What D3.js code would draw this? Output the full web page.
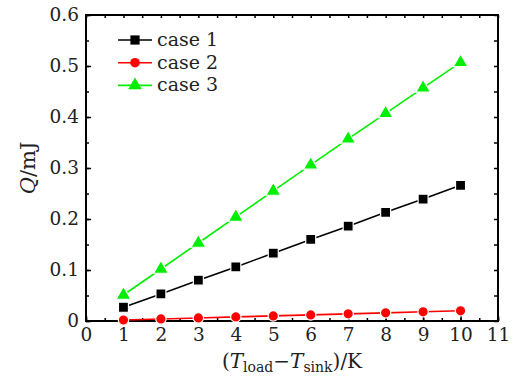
<!DOCTYPE html>
<html>
<head>
<meta charset="utf-8">
<script src="https://cdn.jsdelivr.net/npm/d3@7"></script>
<style>
  body { margin: 0; background: #fff; }
  svg text { font-family: "DejaVu Serif", serif; }
</style>
</head>
<body>
<script>
const xValues = [1, 2, 3, 4, 5, 6, 7, 8, 9, 10];
const case1 = [0.027, 0.053, 0.080, 0.106, 0.133, 0.160, 0.186, 0.213, 0.239, 0.266];
const case2 = [0.002, 0.004, 0.006, 0.008, 0.010, 0.012, 0.014, 0.016, 0.018, 0.020];
const case3 = [0.051, 0.102, 0.153, 0.204, 0.255, 0.306, 0.357, 0.407, 0.457, 0.507];
const seriesNames = ['case 1', 'case 2', 'case 3'];
const xTicks = [0, 1, 2, 3, 4, 5, 6, 7, 8, 9, 10, 11];
const yTicks = [0, 0.1, 0.2, 0.3, 0.4, 0.5, 0.6];

const width = 514, height = 378;
const margin = { top: 15, right: 16, bottom: 57, left: 86 };

const svg = d3.select('body')
    .append('svg')
    .attr('width', width)
    .attr('height', height);

const x = d3.scaleLinear().domain([0, 11]).range([margin.left, width - margin.right]);
const y = d3.scaleLinear().domain([0, 0.6]).range([height - margin.bottom, margin.top]);

const series = [
    { name: seriesNames[0], values: case1, color: '#000000', shape: d3.symbolSquare, size: 100 },
    { name: seriesNames[1], values: case2, color: '#ff0000', shape: d3.symbolCircle, size: 85 },
    { name: seriesNames[2], values: case3, color: '#00ee00', shape: d3.symbolTriangle, size: 95 }
];

// axes with inward ticks
const minorX = d3.range(0, 11.01, 0.5);
const minorY = d3.range(0, 0.601, 0.05);

function addAxis(axisFn, scale, transform, values, size, labels) {
    const a = axisFn(scale).tickValues(values).tickSizeInner(-size).tickSizeOuter(0).tickPadding(7);
    if (!labels) a.tickFormat('');
    const g = svg.append('g').attr('transform', transform).call(a);
    g.select('.domain').remove();
    g.selectAll('line').attr('stroke', '#000').attr('stroke-width', 1.5);
    g.selectAll('text').attr('font-size', 18.5).attr('fill', '#222');
    return g;
}

const pBottom = height - margin.bottom, pLeft = margin.left, pRight = width - margin.right, pTop = margin.top;

addAxis(d3.axisBottom, x, `translate(0,${pBottom})`, minorX, 3, false);
addAxis(d3.axisBottom, x, `translate(0,${pBottom})`, xTicks, 5, true)
    .selectAll('text').text(d => d3.format('d')(d));
addAxis(d3.axisTop, x, `translate(0,${pTop})`, minorX, 3, false);
addAxis(d3.axisLeft, y, `translate(${pLeft},0)`, minorY, 3, false);
addAxis(d3.axisLeft, y, `translate(${pLeft},0)`, yTicks, 5, true)
    .selectAll('text').text(d => d === 0 ? '0' : d3.format('.1f')(d));
addAxis(d3.axisRight, y, `translate(${pRight},0)`, minorY, 4, false);

svg.append('rect')
    .attr('x', pLeft).attr('y', pTop)
    .attr('width', pRight - pLeft).attr('height', pBottom - pTop)
    .attr('fill', 'none').attr('stroke', '#000').attr('stroke-width', 2);

// lines and markers
const line = d3.line().x((d, i) => x(xValues[i])).y(d => y(d));

series.forEach(s => {
    svg.append('path')
        .datum(s.values)
        .attr('fill', 'none')
        .attr('stroke', s.color)
        .attr('stroke-width', 1.6)
        .attr('d', line);

    svg.selectAll(null)
        .data(s.values)
        .enter()
        .append('path')
        .attr('transform', (d, i) => `translate(${x(xValues[i])},${y(d)})`)
        .attr('d', d3.symbol().type(s.shape).size(s.size))
        .attr('fill', s.color)
        .attr('stroke', '#fff')
        .attr('stroke-width', 1.2);
});

// legend
const legend = svg.append('g').attr('transform', 'translate(118,40)');
series.forEach((s, i) => {
    const g = legend.append('g').attr('transform', `translate(0,${i * 22.7})`);
    g.append('line').attr('x1', 0).attr('x2', 34).attr('y1', 0).attr('y2', 0)
        .attr('stroke', s.color).attr('stroke-width', 1.6);
    g.append('path').attr('transform', 'translate(17,0)')
        .attr('d', d3.symbol().type(s.shape).size(s.size * 0.85))
        .attr('fill', s.color);
    g.append('text').attr('x', 39).attr('y', 6)
        .attr('font-size', 19).attr('fill', '#222').text(s.name);
});

// axis titles
const xt = svg.append('text')
    .attr('x', (pLeft + pRight) / 2).attr('y', 368)
    .attr('text-anchor', 'middle').attr('font-size', 20).attr('fill', '#222');
xt.append('tspan').text('(');
xt.append('tspan').attr('font-style', 'italic').text('T');
xt.append('tspan').attr('font-size', 14).attr('dy', 4).text('load');
xt.append('tspan').attr('dy', -4).text('\u2212');
xt.append('tspan').attr('font-style', 'italic').text('T');
xt.append('tspan').attr('font-size', 14).attr('dy', 4).text('sink');
xt.append('tspan').attr('dy', -4).text(')/K');

const yt = svg.append('text')
    .attr('transform', `translate(35,${(pTop + pBottom) / 2}) rotate(-90)`)
    .attr('text-anchor', 'middle').attr('font-size', 21).attr('fill', '#222');
yt.append('tspan').attr('font-style', 'italic').text('Q');
yt.append('tspan').text('/mJ');
</script>
</body>
</html>
